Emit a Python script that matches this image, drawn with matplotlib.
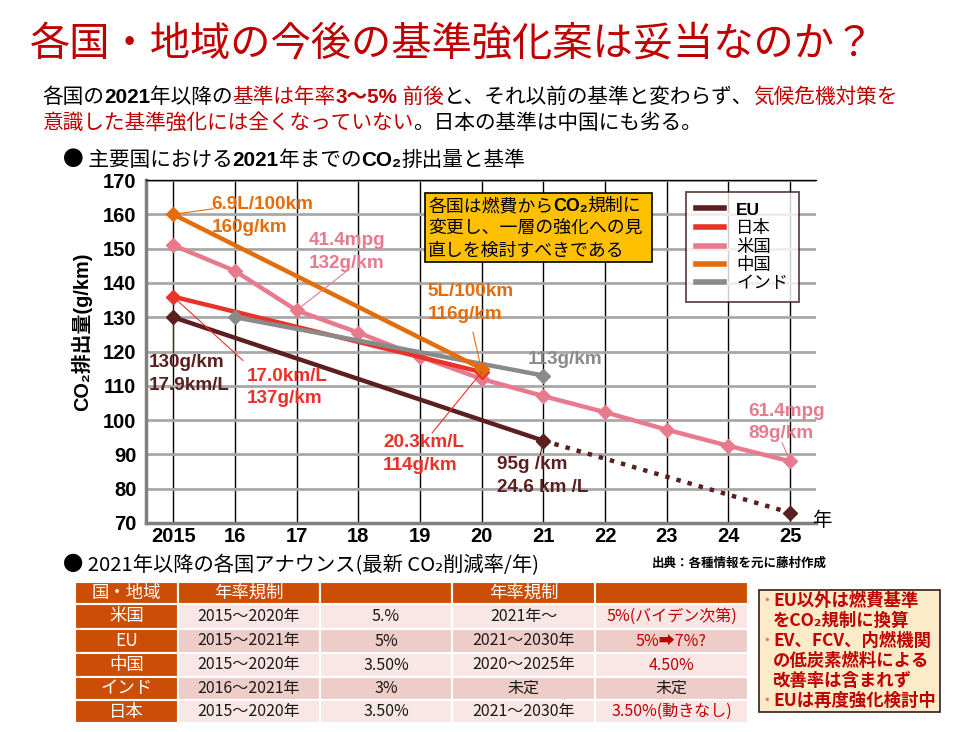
import matplotlib
matplotlib.use('Agg')
import matplotlib.pyplot as plt
from matplotlib.patches import Rectangle
from matplotlib.lines import Line2D
from matplotlib.offsetbox import TextArea, HPacker, AnnotationBbox

JP = ['Noto Sans CJK JP', 'DejaVu Sans']
AR = ['Liberation Sans', 'Noto Sans CJK JP', 'DejaVu Sans']
RED = '#C00000'

# ---- データ ----
eu_years = [2015, 2021]
eu_vals = [130, 94]
eu_future_years = [2021, 2025]
eu_future_vals = [94, 73]
jp_years = [2015, 2020]
jp_vals = [136, 114]
us_years = [2015, 2016, 2017, 2018, 2019, 2020, 2021, 2022, 2023, 2024, 2025]
us_vals = [151, 143.5, 132, 125.5, 118.5, 112, 107, 102.3, 97.2, 92.5, 88]
cn_years = [2015, 2020]
cn_vals = [160, 115]
in_years = [2016, 2021]
in_vals = [130, 113]

xticks = list(range(2015, 2026))
xtick_labels = ['2015', '16', '17', '18', '19', '20', '21', '22', '23', '24', '25']
yticks = list(range(70, 171, 10))

EU_C = '#5B1F1F'
JP_C = '#E8322A'
US_C = '#E87A8E'
CN_C = '#E46C0A'
IN_C = '#8A8A8A'

# 注記 (テキスト, x, y, 色, 引出線の点, 引出線の先)
notes = [
    ('6.9L/100km\n160g/km', 2015.62, 165.2, CN_C, (2015, 160), (2015.65, 161.6)),
    ('41.4mpg\n132g/km', 2017.2, 154.8, US_C, (2017, 132), (2017.79, 143.1)),
    ('5L/100km\n116g/km', 2019.13, 139.9, CN_C, (2020, 114.5), (2019.86, 125.6)),
    ('113g/km', 2020.74, 120.2, IN_C, None, None),
    ('130g/km\n17.9km/L', 2014.6, 119.2, EU_C, (2015, 130), (2015, 120.0)),
    ('17.0km/L\n137g/km', 2016.2, 115.3, JP_C, (2015, 136), (2016.13, 117.4)),
    ('20.3km/L\n114g/km', 2018.4, 96.0, JP_C, (2020, 114), (2019.2, 96.3)),
    ('95g /km\n24.6 km /L', 2020.25, 89.6, EU_C, (2021, 94), (2020.95, 89.8)),
    ('61.4mpg\n89g/km', 2024.32, 105.1, US_C, (2025, 88), (2024.87, 93.4)),
]

# 表
table_header = ['国・地域', '年率規制', '', '年率規制', '']
countries = ['米国', 'EU', '中国', 'インド', '日本']
period1 = ['2015～2020年', '2015～2021年', '2015～2020年', '2016～2021年', '2015～2020年']
rate1 = ['5.%', '5%', '3.50%', '3%', '3.50%']
period2 = ['2021年～', '2021～2030年', '2020～2025年', '未定', '2021～2030年']
rate2 = ['5%(バイデン次第)', '5%➡7%?', '4.50%', '未定', '3.50%(動きなし)']
rate2_red = [True, True, True, False, True]

W, H = 956, 732
fig = plt.figure(figsize=(W / 100, H / 100), dpi=100)

# ---- グラフ ----
ax = fig.add_axes([146 / W, 1 - 523 / H, (816 - 146) / W, (523 - 180) / H])
ax.set_xlim(2014.56, 2025.42)
ax.set_ylim(70, 170)
ax.set_yticks(yticks)
ax.set_xticks(xticks)
ax.set_xticklabels(xtick_labels)
ax.tick_params(length=0, labelsize=14.5)
ax.tick_params(axis='x', pad=3)
ax.tick_params(axis='y', pad=7)
for lab in ax.get_xticklabels() + ax.get_yticklabels():
    lab.set_fontweight('bold')
    lab.set_family(AR)
ax.set_axisbelow(True)
ax.yaxis.grid(True, color='#A8A8A8', lw=2)
ax.xaxis.grid(True, color='black', lw=1)
ax.spines['right'].set_visible(False)
ax.spines['top'].set_color('black')
ax.spines['top'].set_linewidth(1)
ax.spines['left'].set_color('#808080')
ax.spines['left'].set_linewidth(2.5)
ax.spines['bottom'].set_color('#808080')
ax.spines['bottom'].set_linewidth(2.5)

mk = dict(marker='D', markersize=7, lw=3.2)
ax.plot(us_years, us_vals, color=US_C, zorder=3, **mk)
ax.plot(jp_years, jp_vals, color=JP_C, zorder=4, **mk)
ax.plot(in_years, in_vals, color=IN_C, zorder=5, **mk)
ax.plot(eu_years, eu_vals, color=EU_C, zorder=4, **mk)
ax.plot(eu_future_years, eu_future_vals, color=EU_C, ls=(0, (1, 1.6)), marker='D',
        markersize=7, lw=3.2, zorder=4)
ax.plot(cn_years, cn_vals, color=CN_C, zorder=6, **mk)

for txt, x, y, c, p0, p1 in notes:
    ax.text(x, y, txt, color=c, fontsize=13.6, fontweight='bold', family=AR,
            va='top', ha='left', linespacing=1.45, zorder=7)
    if p0 is not None:
        ax.plot([p0[0], p1[0]], [p0[1], p1[1]], color=c, lw=0.8, zorder=7)

handles = [Line2D([], [], color=c, lw=4) for c in [EU_C, JP_C, US_C, CN_C, IN_C]]
leg = ax.legend(handles, ['EU', '日本', '米国', '中国', 'インド'], loc='upper left',
                bbox_to_anchor=(686 / W, 1 - 192 / H), bbox_transform=fig.transFigure,
                borderaxespad=0, frameon=True, fancybox=False, edgecolor='#3A1A1A',
                prop=dict(family=AR, size=12.5), handlelength=1.6, handletextpad=0.7,
                labelspacing=0.15, borderpad=0.6)
leg.get_frame().set_linewidth(1.3)
leg.get_texts()[0].set_fontweight('bold')

fig.text(82 / W, 1 - 332 / H, 'CO₂排出量(g/km)', rotation=90, ha='center', va='center',
         fontsize=14.3, fontweight='bold', family=AR)
fig.text(812 / W, 1 - 520 / H, '年', fontsize=14, family=JP, ha='left', va='center')

# ---- 重ね描き用 (ピクセル座標) ----
ov = fig.add_axes([0, 0, 1, 1], zorder=5)
ov.set_xlim(0, W)
ov.set_ylim(H, 0)
ov.axis('off')
ov.patch.set_alpha(0)


def rich(x, y, runs, size):
    kids = []
    for s, c, bold, fam in runs:
        kids.append(TextArea(s, textprops=dict(color=c, fontsize=size,
                                               fontweight='bold' if bold else 'normal',
                                               family=fam)))
    box = HPacker(children=kids, align='baseline', pad=0, sep=0)
    ab = AnnotationBbox(box, (x, y), xycoords='data', box_alignment=(0, 0.5),
                        frameon=False, pad=0, annotation_clip=False)
    ov.add_artist(ab)


ov.text(30, 45, '各国・地域の今後の基準強化案は妥当なのか？', color=RED, fontsize=29,
        family=JP, va='center', ha='left')

K = 'black'
rich(42, 97, [('各国の', K, False, JP), ('2021', K, True, AR), ('年以降の', K, False, JP),
              ('基準は年率', RED, False, JP), ('3～5%', RED, True, AR), (' 前後', RED, False, JP),
              ('と、それ以前の基準と変わらず、', K, False, JP), ('気候危機対策を', RED, False, JP)], 14.9)
rich(42, 123, [('意識した基準強化には全くなっていない', RED, False, JP),
               ('。日本の基準は中国にも劣る。', K, False, JP)], 14.9)
rich(63, 160, [('● 主要国における', K, False, JP), ('2021', K, True, AR), ('年までの', K, False, JP),
               ('CO₂', K, True, AR), ('排出量と基準', K, False, JP)], 14.9)

# オレンジの囲み
ov.add_patch(Rectangle((425, 193), 227, 69, facecolor='#FFC000', edgecolor='black', lw=1.2))
rich(428, 206, [('各国は燃費から', K, False, JP), ('CO₂', K, True, AR), ('規制に', K, False, JP)], 12.9)
ov.text(428, 228, '変更し、一層の強化への見', fontsize=12.9, family=JP, va='center')
ov.text(428, 251, '直しを検討すべきである', fontsize=12.9, family=JP, va='center')

# 下段
ov.text(63, 566, '● 2021年以降の各国アナウンス(最新 CO₂削減率/年)', fontsize=14.6,
        family=JP, va='center')
ov.text(652, 563, '出典：各種情報を元に藤村作成', fontsize=9, fontweight='bold',
        family=JP, va='center')

cols_x = [75, 178, 320, 452, 595, 748]
rows_y = [582, 604, 629, 653, 677, 700, 723]
ORANGE = '#CC4E06'
LIGHT = '#F8E7E5'
DARK = '#EECDC9'
for r in range(6):
    for c in range(5):
        if r == 0 or c == 0:
            fc = ORANGE
        else:
            fc = LIGHT if r % 2 == 1 else DARK
        ov.add_patch(Rectangle((cols_x[c], rows_y[r]), cols_x[c + 1] - cols_x[c],
                               rows_y[r + 1] - rows_y[r], facecolor=fc,
                               edgecolor='white', lw=1.5))


def cell(r, c, s, color, size=11.5):
    xc = (cols_x[c] + cols_x[c + 1]) / 2
    yc = (rows_y[r] + rows_y[r + 1]) / 2
    ov.text(xc, yc, s, ha='center', va='center', color=color, fontsize=size, family=JP)


for c, s in enumerate(table_header):
    cell(0, c, s, 'white', 12.5)
for i in range(5):
    cell(i + 1, 0, countries[i], 'white', 12.5)
    cell(i + 1, 1, period1[i], '#1A1A1A')
    cell(i + 1, 2, rate1[i], '#1A1A1A')
    cell(i + 1, 3, period2[i], '#1A1A1A')
    cell(i + 1, 4, rate2[i], RED if rate2_red[i] else '#1A1A1A')

# 右の囲み
ov.add_patch(Rectangle((759, 590), 181, 122, facecolor='#FCEBC8', edgecolor='#3A1A1A', lw=1.2))
box_lines = [('･', 'EU以外は燃費基準'), ('', 'をCO₂規制に換算'), ('･', 'EV、FCV、内燃機関'),
             ('', 'の低炭素燃料による'), ('', '改善率は含まれず'), ('･', 'EUは再度強化検討中')]
for i, (b, s) in enumerate(box_lines):
    y = 601 + i * 20
    if b:
        ov.text(762, y, b, color='#F07070', fontsize=12.5, fontweight='bold', family=JP,
                va='center')
    ov.text(773, y, s, color=RED, fontsize=12.5, fontweight='bold', family=JP, va='center')

fig.savefig('out.png', dpi=100)
